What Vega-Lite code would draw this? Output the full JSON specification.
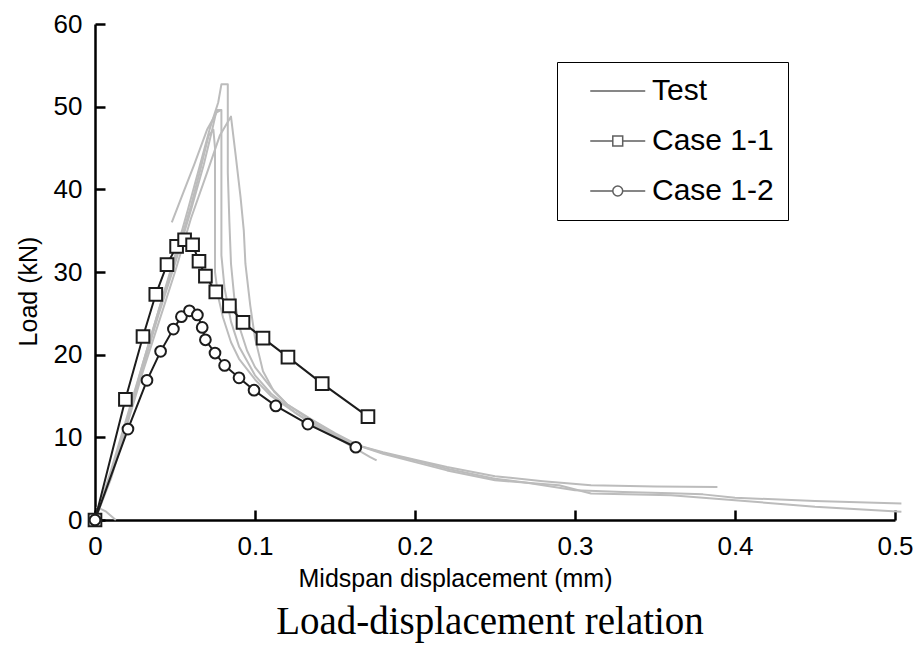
{
  "$schema": "https://vega.github.io/schema/vega-lite/v6.json",
  "autosize": "none",
  "width": 800,
  "height": 496,
  "padding": {"left": 95, "top": 24, "right": 24, "bottom": 127},
  "background": "white",
  "title": {"text": "Load-displacement relation", "orient": "bottom", "anchor": "middle", "font": "Liberation Serif", "fontSize": 39, "fontWeight": "normal", "color": "black", "offset": 12, "dx": -5},
  "datasets": {
    "test": [
      {"c":"T1","i":0,"x":0,"y":0},{"c":"T1","i":1,"x":0.01,"y":6},{"c":"T1","i":2,"x":0.02,"y":12.5},{"c":"T1","i":3,"x":0.03,"y":19},{"c":"T1","i":4,"x":0.04,"y":25.5},{"c":"T1","i":5,"x":0.05,"y":32},{"c":"T1","i":6,"x":0.058,"y":37.5},{"c":"T1","i":7,"x":0.065,"y":42.5},{"c":"T1","i":8,"x":0.072,"y":47.5},{"c":"T1","i":9,"x":0.077,"y":50.5},{"c":"T1","i":10,"x":0.079,"y":52.7},{"c":"T1","i":11,"x":0.083,"y":52.7},{"c":"T1","i":12,"x":0.083,"y":48},{"c":"T1","i":13,"x":0.083,"y":42},{"c":"T1","i":14,"x":0.084,"y":36},{"c":"T1","i":15,"x":0.085,"y":31},{"c":"T1","i":16,"x":0.087,"y":27},{"c":"T1","i":17,"x":0.09,"y":23.5},{"c":"T1","i":18,"x":0.095,"y":20.5},{"c":"T1","i":19,"x":0.1,"y":18.5},{"c":"T1","i":20,"x":0.11,"y":16},{"c":"T1","i":21,"x":0.12,"y":14},{"c":"T1","i":22,"x":0.135,"y":12.2},{"c":"T1","i":23,"x":0.15,"y":10.5},{"c":"T1","i":24,"x":0.165,"y":9},{"c":"T1","i":25,"x":0.18,"y":8.2},{"c":"T1","i":26,"x":0.2,"y":7.3},{"c":"T1","i":27,"x":0.22,"y":6.4},{"c":"T1","i":28,"x":0.25,"y":5.3},{"c":"T1","i":29,"x":0.28,"y":4.7},{"c":"T1","i":30,"x":0.31,"y":4.2},{"c":"T1","i":31,"x":0.35,"y":4.05},{"c":"T1","i":32,"x":0.389,"y":4.0},
      {"c":"T2","i":0,"x":0,"y":0},{"c":"T2","i":1,"x":0.01,"y":5.5},{"c":"T2","i":2,"x":0.02,"y":12},{"c":"T2","i":3,"x":0.03,"y":18.5},{"c":"T2","i":4,"x":0.04,"y":25},{"c":"T2","i":5,"x":0.05,"y":31},{"c":"T2","i":6,"x":0.06,"y":37.5},{"c":"T2","i":7,"x":0.068,"y":43},{"c":"T2","i":8,"x":0.073,"y":47},{"c":"T2","i":9,"x":0.076,"y":49.6},{"c":"T2","i":10,"x":0.079,"y":49.6},{"c":"T2","i":11,"x":0.079,"y":44},{"c":"T2","i":12,"x":0.079,"y":38},{"c":"T2","i":13,"x":0.079,"y":32},{"c":"T2","i":14,"x":0.081,"y":28},{"c":"T2","i":15,"x":0.085,"y":24},{"c":"T2","i":16,"x":0.09,"y":21},{"c":"T2","i":17,"x":0.1,"y":17.5},{"c":"T2","i":18,"x":0.11,"y":15.3},{"c":"T2","i":19,"x":0.125,"y":13},{"c":"T2","i":20,"x":0.14,"y":11},{"c":"T2","i":21,"x":0.155,"y":9.5},{"c":"T2","i":22,"x":0.165,"y":8.4},{"c":"T2","i":23,"x":0.172,"y":7.6},{"c":"T2","i":24,"x":0.176,"y":7.2},
      {"c":"T3","i":0,"x":0,"y":0},{"c":"T3","i":1,"x":0.01,"y":5},{"c":"T3","i":2,"x":0.02,"y":11.5},{"c":"T3","i":3,"x":0.03,"y":18},{"c":"T3","i":4,"x":0.04,"y":24},{"c":"T3","i":5,"x":0.05,"y":30},{"c":"T3","i":6,"x":0.06,"y":36.5},{"c":"T3","i":7,"x":0.07,"y":42},{"c":"T3","i":8,"x":0.078,"y":46.5},{"c":"T3","i":9,"x":0.085,"y":48.8},{"c":"T3","i":10,"x":0.088,"y":44},{"c":"T3","i":11,"x":0.091,"y":39},{"c":"T3","i":12,"x":0.093,"y":35},{"c":"T3","i":13,"x":0.094,"y":31},{"c":"T3","i":14,"x":0.097,"y":26},{"c":"T3","i":15,"x":0.1,"y":22},{"c":"T3","i":16,"x":0.105,"y":18},{"c":"T3","i":17,"x":0.112,"y":15.5},{"c":"T3","i":18,"x":0.12,"y":14},{"c":"T3","i":19,"x":0.135,"y":12},{"c":"T3","i":20,"x":0.15,"y":10.3},{"c":"T3","i":21,"x":0.165,"y":9},{"c":"T3","i":22,"x":0.18,"y":8.1},{"c":"T3","i":23,"x":0.2,"y":7.2},{"c":"T3","i":24,"x":0.22,"y":6.2},{"c":"T3","i":25,"x":0.25,"y":5.0},{"c":"T3","i":26,"x":0.27,"y":4.5},{"c":"T3","i":27,"x":0.3,"y":3.6},{"c":"T3","i":28,"x":0.33,"y":3.4},{"c":"T3","i":29,"x":0.36,"y":3.25},{"c":"T3","i":30,"x":0.38,"y":3.1},{"c":"T3","i":31,"x":0.4,"y":2.7},{"c":"T3","i":32,"x":0.45,"y":2.3},{"c":"T3","i":33,"x":0.504,"y":2.0},
      {"c":"T4","i":0,"x":0,"y":0},{"c":"T4","i":1,"x":0.01,"y":5.5},{"c":"T4","i":2,"x":0.02,"y":12},{"c":"T4","i":3,"x":0.03,"y":19},{"c":"T4","i":4,"x":0.04,"y":25.5},{"c":"T4","i":5,"x":0.05,"y":31.5},{"c":"T4","i":6,"x":0.06,"y":38},{"c":"T4","i":7,"x":0.066,"y":42.5},{"c":"T4","i":8,"x":0.071,"y":46.5},{"c":"T4","i":9,"x":0.074,"y":47.2},{"c":"T4","i":10,"x":0.075,"y":45},{"c":"T4","i":11,"x":0.075,"y":40},{"c":"T4","i":12,"x":0.075,"y":34},{"c":"T4","i":13,"x":0.075,"y":30},{"c":"T4","i":14,"x":0.077,"y":27},{"c":"T4","i":15,"x":0.08,"y":24.5},{"c":"T4","i":16,"x":0.085,"y":21.5},{"c":"T4","i":17,"x":0.09,"y":19.5},{"c":"T4","i":18,"x":0.1,"y":17},{"c":"T4","i":19,"x":0.11,"y":15},{"c":"T4","i":20,"x":0.125,"y":13},{"c":"T4","i":21,"x":0.14,"y":11.2},{"c":"T4","i":22,"x":0.16,"y":9.3},{"c":"T4","i":23,"x":0.18,"y":8.0},{"c":"T4","i":24,"x":0.2,"y":7.0},{"c":"T4","i":25,"x":0.22,"y":6.0},{"c":"T4","i":26,"x":0.25,"y":4.8},{"c":"T4","i":27,"x":0.29,"y":4.2},{"c":"T4","i":28,"x":0.31,"y":3.2},{"c":"T4","i":29,"x":0.36,"y":3.0},{"c":"T4","i":30,"x":0.38,"y":2.7},{"c":"T4","i":31,"x":0.4,"y":2.4},{"c":"T4","i":32,"x":0.45,"y":1.6},{"c":"T4","i":33,"x":0.504,"y":1.0},
      {"c":"T5","i":0,"x":0.048,"y":36},{"c":"T5","i":1,"x":0.055,"y":39.5},{"c":"T5","i":2,"x":0.062,"y":43},{"c":"T5","i":3,"x":0.07,"y":47.2},{"c":"T5","i":4,"x":0.076,"y":49.3},{"c":"T5","i":5,"x":0.079,"y":49.6},
      {"c":"T6","i":0,"x":0.001,"y":1.6},{"c":"T6","i":1,"x":0.007,"y":1.0},{"c":"T6","i":2,"x":0.013,"y":0}
    ],
    "cases": [
      {"s":"Case 1-1","i":0,"x":0,"y":0},{"s":"Case 1-1","i":1,"x":0.019,"y":14.6},{"s":"Case 1-1","i":2,"x":0.030,"y":22.2},{"s":"Case 1-1","i":3,"x":0.038,"y":27.3},{"s":"Case 1-1","i":4,"x":0.045,"y":30.9},{"s":"Case 1-1","i":5,"x":0.051,"y":33.1},{"s":"Case 1-1","i":6,"x":0.056,"y":33.9},{"s":"Case 1-1","i":7,"x":0.061,"y":33.3},{"s":"Case 1-1","i":8,"x":0.065,"y":31.3},{"s":"Case 1-1","i":9,"x":0.069,"y":29.5},{"s":"Case 1-1","i":10,"x":0.0755,"y":27.6},{"s":"Case 1-1","i":11,"x":0.084,"y":25.9},{"s":"Case 1-1","i":12,"x":0.0925,"y":23.9},{"s":"Case 1-1","i":13,"x":0.105,"y":22.0},{"s":"Case 1-1","i":14,"x":0.1206,"y":19.7},{"s":"Case 1-1","i":15,"x":0.142,"y":16.5},{"s":"Case 1-1","i":16,"x":0.1706,"y":12.5},
      {"s":"Case 1-2","i":0,"x":0,"y":0},{"s":"Case 1-2","i":1,"x":0.0206,"y":11.0},{"s":"Case 1-2","i":2,"x":0.0325,"y":16.9},{"s":"Case 1-2","i":3,"x":0.041,"y":20.4},{"s":"Case 1-2","i":4,"x":0.049,"y":23.1},{"s":"Case 1-2","i":5,"x":0.054,"y":24.6},{"s":"Case 1-2","i":6,"x":0.059,"y":25.3},{"s":"Case 1-2","i":7,"x":0.064,"y":24.8},{"s":"Case 1-2","i":8,"x":0.067,"y":23.3},{"s":"Case 1-2","i":9,"x":0.069,"y":21.8},{"s":"Case 1-2","i":10,"x":0.075,"y":20.2},{"s":"Case 1-2","i":11,"x":0.081,"y":18.7},{"s":"Case 1-2","i":12,"x":0.090,"y":17.2},{"s":"Case 1-2","i":13,"x":0.0994,"y":15.7},{"s":"Case 1-2","i":14,"x":0.113,"y":13.8},{"s":"Case 1-2","i":15,"x":0.133,"y":11.6},{"s":"Case 1-2","i":16,"x":0.163,"y":8.8}
    ]
  },
  "encoding": {
    "x": {"field": "x", "type": "quantitative", "scale": {"domain": [0, 0.5], "nice": false, "zero": false},
      "axis": {"values": [0, 0.1, 0.2, 0.3, 0.4, 0.5], "labelExpr": "datum.value == 0 ? '0' : format(datum.value, '.1f')", "title": "Midspan displacement (mm)", "titleX": 360, "titleY": 58, "titleBaseline": "middle", "titleAlign": "center"}},
    "y": {"field": "y", "type": "quantitative", "scale": {"domain": [0, 60], "nice": false},
      "axis": {"values": [0, 10, 20, 30, 40, 50, 60], "title": "Load (kN)", "titleX": -67, "titleY": 267, "titleAngle": 270, "titleBaseline": "middle", "titleAlign": "center"}}
  },
  "layer": [
    {"data": {"name": "test"}, "mark": {"type": "line", "stroke": "#bcbcbc", "strokeWidth": 2, "strokeJoin": "round"},
      "encoding": {"detail": {"field": "c"}, "order": {"field": "i", "type": "quantitative"}}},
    {"data": {"name": "cases"}, "mark": {"type": "line", "stroke": "#1c1c1c", "strokeWidth": 2},
      "encoding": {"detail": {"field": "s"}, "order": {"field": "i", "type": "quantitative"}}},
    {"data": {"name": "cases"}, "transform": [{"filter": "datum.s == 'Case 1-1'"}],
      "mark": {"type": "point", "shape": "square", "size": 160, "filled": true, "fill": "white", "stroke": "#1c1c1c", "strokeWidth": 2, "opacity": 1}},
    {"data": {"name": "cases"}, "transform": [{"filter": "datum.s == 'Case 1-2'"}],
      "mark": {"type": "point", "shape": "circle", "size": 115, "filled": true, "fill": "white", "stroke": "#1c1c1c", "strokeWidth": 2, "opacity": 1}},
    {"data": {"name": "cases"}, "transform": [{"filter": "false"}],
      "mark": {"type": "point", "filled": false, "stroke": "#1c1c1c"},
      "encoding": {
        "shape": {"field": "s", "type": "nominal",
          "scale": {"domain": ["Test", "Case 1-1", "Case 1-2"],
            "range": ["M-1,0H3", "M-1,0H0.64M1.36,0H3M0.64,-0.36H1.36V0.36H0.64Z", "M-1,0H0.64M1.36,0H3M1.36,0A0.36,0.36 0 1 1 0.64,0A0.36,0.36 0 1 1 1.36,0"]},
          "legend": {"title": null, "orient": "none", "legendX": 462, "legendY": 38, "padding": 14, "symbolSize": 756, "symbolOffset": 18, "labelOffset": 33, "rowPadding": 20,
            "labelFont": "Liberation Sans", "labelFontSize": 30, "labelColor": "black", "labelLimit": 400,
            "strokeColor": "black", "fillColor": "white",
            "encode": {
              "legend": {"update": {"strokeWidth": {"value": 2}}},
              "symbols": {"update": {"fill": {"value": "white"}, "strokeWidth": {"value": 1.8}, "opacity": {"value": 1}, "stroke": {"signal": "datum.value === 'Test' ? '#b0b0b0' : '#1c1c1c'"}}}
            }}}
      }}
  ],
  "config": {
    "view": {"stroke": null},
    "axis": {"ticks": false, "grid": true, "gridColor": "black", "gridWidth": 2.5, "gridOpacity": 1, "domainColor": "black", "domainWidth": 2.5, "labelPadding": 13,
      "labelFont": "Liberation Sans", "labelFontSize": 26, "labelColor": "black", "labelFlush": false, "labelOverlap": false, "labelBound": false,
      "titleFont": "Liberation Sans", "titleFontSize": 25, "titleFontWeight": "normal", "titleColor": "black"},
    "axisX": {"gridDash": [10, 2000], "gridDashOffset": -486},
    "axisY": {"gridDash": [10, 2000]}
  }
}
